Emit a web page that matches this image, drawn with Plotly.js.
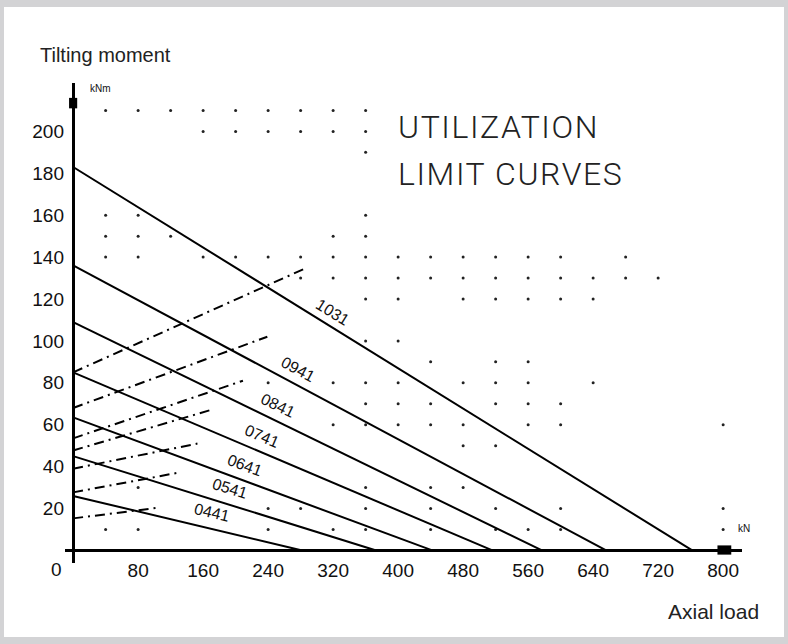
<!DOCTYPE html>
<html>
<head>
<meta charset="utf-8">
<script src="https://cdn.plot.ly/plotly-3.0.1.min.js"></script>
<style>
  html, body { margin: 0; padding: 0; }
  body { width: 788px; height: 644px; background: #d3d3d5; position: relative; overflow: hidden; }
  #chart { position: absolute; left: 4px; top: 7px; width: 780px; height: 630px; background: #fff; }
  text[data-unformatted="UTILIZATION"], text[data-unformatted="LIMIT CURVES"] { letter-spacing: 1.6px; }
</style>
</head>
<body>
<div id="chart"></div>
<script>
// ---- data ----
const seriesNames = ["1031", "0941", "0841", "0741", "0641", "0541", "0441"];
const momentAtZeroLoad = [183, 136, 109, 85, 63.5, 45, 26];      // tilting moment where axial load = 0
const loadAtZeroMoment = [762, 656, 577, 516, 442, 373, 282];    // axial load where tilting moment = 0

const limitStartMoment = [85, 68, 53.5, 47.7, 39, 27.7, 15.3];   // dash-dot lines, start on moment axis
const limitEndLoad = [288, 239, 209, 169, 153, 128, 107];
const limitEndMoment = [135, 102, 81, 67, 51, 37, 20.5];

const xTickValues = [80, 160, 240, 320, 400, 480, 560, 640, 720, 800];
const xTickLabels = ["80", "160", "240", "320", "400", "480", "560", "640", "720", "800"];
const yTickValues = [20, 40, 60, 80, 100, 120, 140, 160, 180, 200];
const yTickLabels = ["20", "40", "60", "80", "100", "120", "140", "160", "180", "200"];

const dotRowMoment = [210, 200, 190, 160, 150, 140, 130, 120, 100, 90, 80, 70, 60, 50, 30, 20, 10];
const dotRowLoads = [
  [40, 80, 120, 160, 200, 240, 280, 320, 360],
  [160, 200, 240, 280, 320, 360],
  [360],
  [40, 80, 360],
  [40, 80, 120, 320, 360],
  [40, 80, 160, 200, 240, 280, 320, 360, 400, 440, 480, 520, 560, 600, 680],
  [280, 320, 360, 400, 440, 480, 520, 560, 600, 640, 680, 720],
  [360, 400, 480, 520, 560, 600, 640],
  [360, 400],
  [440, 520, 560],
  [240, 320, 360, 400, 480, 520, 560, 640],
  [360, 400, 440, 520, 560, 600],
  [320, 360, 400, 440, 480, 560, 600, 800],
  [480, 520],
  [80, 360, 440, 480],
  [240, 280, 360, 440, 520, 600, 800],
  [40, 80, 240, 320, 360, 440, 520, 560, 600, 800]
];

// ---- layout config (positions / styles) ----
const W = 780, H = 630;
const M = { l: 61, r: 42, t: 76, b: 74 };
const xRange = [-10, 823.2];
const yRange = [-6, 223.1];
const plotW = W - M.l - M.r, plotH = H - M.t - M.b;
const pxPerX = plotW / (xRange[1] - xRange[0]);
const pxPerY = plotH / (yRange[1] - yRange[0]);
const labelLoad = [320, 277, 252, 233, 212, 193, 171];
const labelLift = 16;

const traces = [];

// dot grid
const dotX = [], dotY = [];
dotRowMoment.forEach((m, i) => dotRowLoads[i].forEach(x => { dotX.push(x); dotY.push(m); }));
traces.push({
  x: dotX, y: dotY, type: 'scatter', mode: 'markers',
  marker: { size: 3, color: '#222' }, hoverinfo: 'skip', showlegend: false
});

// utilization limit lines
seriesNames.forEach((name, i) => {
  traces.push({
    x: [0, loadAtZeroMoment[i]], y: [momentAtZeroLoad[i], 0],
    type: 'scatter', mode: 'lines', name: name,
    line: { color: '#000', width: 2 }, showlegend: false, cliponaxis: false
  });
});

// dash-dot lines
limitStartMoment.forEach((m, i) => {
  traces.push({
    x: [0, limitEndLoad[i]], y: [m, limitEndMoment[i]],
    type: 'scatter', mode: 'lines',
    line: { color: '#000', width: 2, dash: '10px,5px,2px,5px' }, showlegend: false
  });
});

// page -> paper helpers
const plotLeftPage = 4 + M.l, plotTopPage = 7 + M.t;
const pX = px => (px - plotLeftPage) / plotW;
const pY = py => 1 - (py - plotTopPage) / plotH;

const annotations = [];
seriesNames.forEach((name, i) => {
  const xl = labelLoad[i];
  const yl = momentAtZeroLoad[i] * (1 - xl / loadAtZeroMoment[i]);
  const ang = Math.atan((momentAtZeroLoad[i] * pxPerY) / (loadAtZeroMoment[i] * pxPerX)) * 180 / Math.PI;
  annotations.push({
    x: xl, y: yl, xref: 'x', yref: 'y', text: name, showarrow: false,
    textangle: ang, yshift: labelLift,
    font: { family: 'Liberation Sans, Arial, sans-serif', size: 16, color: '#111' }
  });
});

const textFont = { family: 'Liberation Sans, Arial, sans-serif', size: 20, color: '#222' };
const heroFont = { family: 'Roboto, Open Sans, sans-serif', size: 32, color: '#222', weight: 300 };
annotations.push(
  { xref: 'paper', yref: 'paper', x: pX(38), y: pY(55), xanchor: 'left', yanchor: 'middle',
    text: 'Tilting moment', showarrow: false, font: textFont },
  { xref: 'paper', yref: 'paper', x: pX(666), y: pY(611), xanchor: 'left', yanchor: 'middle',
    text: 'Axial load', showarrow: false, font: { family: 'Liberation Sans, Arial, sans-serif', size: 21, color: '#222' } },
  { xref: 'paper', yref: 'paper', x: pX(396), y: pY(127), xanchor: 'left', yanchor: 'middle',
    text: 'UTILIZATION', showarrow: false, font: heroFont },
  { xref: 'paper', yref: 'paper', x: pX(396), y: pY(174), xanchor: 'left', yanchor: 'middle',
    text: 'LIMIT CURVES', showarrow: false, font: heroFont },
  { xref: 'x', yref: 'y', x: 0, y: 0, xanchor: 'right', yanchor: 'top', xshift: -9, yshift: -7,
    text: '0', showarrow: false, font: { family: 'Liberation Sans, Arial, sans-serif', size: 19, color: '#111' } },
  { xref: 'paper', yref: 'paper', x: pX(88), y: pY(89), xanchor: 'left', yanchor: 'middle',
    text: 'kNm', showarrow: false, font: { family: 'Liberation Sans, Arial, sans-serif', size: 10, color: '#111' } },
  { xref: 'paper', yref: 'paper', x: pX(736), y: pY(528), xanchor: 'left', yanchor: 'middle',
    text: 'kN', showarrow: false, font: { family: 'Liberation Sans, Arial, sans-serif', size: 10, color: '#111' } }
);

const tickFont = { family: 'Liberation Sans, Arial, sans-serif', size: 19, color: '#111' };

const layout = {
  width: W, height: H,
  margin: M,
  paper_bgcolor: '#fff', plot_bgcolor: '#fff',
  showlegend: false,
  xaxis: {
    range: xRange, showgrid: false, showline: false, ticks: '',
    zeroline: true, zerolinecolor: '#000', zerolinewidth: 3,
    tickmode: 'array', tickvals: xTickValues, ticktext: xTickLabels,
    tickfont: tickFont, fixedrange: true, ticklabelstandoff: -6
  },
  yaxis: {
    range: yRange, showgrid: false, showline: false, ticks: '',
    zeroline: true, zerolinecolor: '#000', zerolinewidth: 3,
    tickmode: 'array', tickvals: yTickValues, ticktext: yTickLabels,
    tickfont: tickFont, fixedrange: true
  },
  shapes: [
    { type: 'rect', xref: 'x', yref: 'y', x0: -5, x1: 5, y0: 211, y1: 216,
      fillcolor: '#000', line: { width: 0 } },
    { type: 'rect', xref: 'x', yref: 'y', x0: 793, x1: 810, y0: -2, y1: 2.4,
      fillcolor: '#000', line: { width: 0 } }
  ],
  annotations: annotations
};

Plotly.newPlot('chart', traces, layout, { staticPlot: true, displayModeBar: false });
</script>
</body>
</html>
